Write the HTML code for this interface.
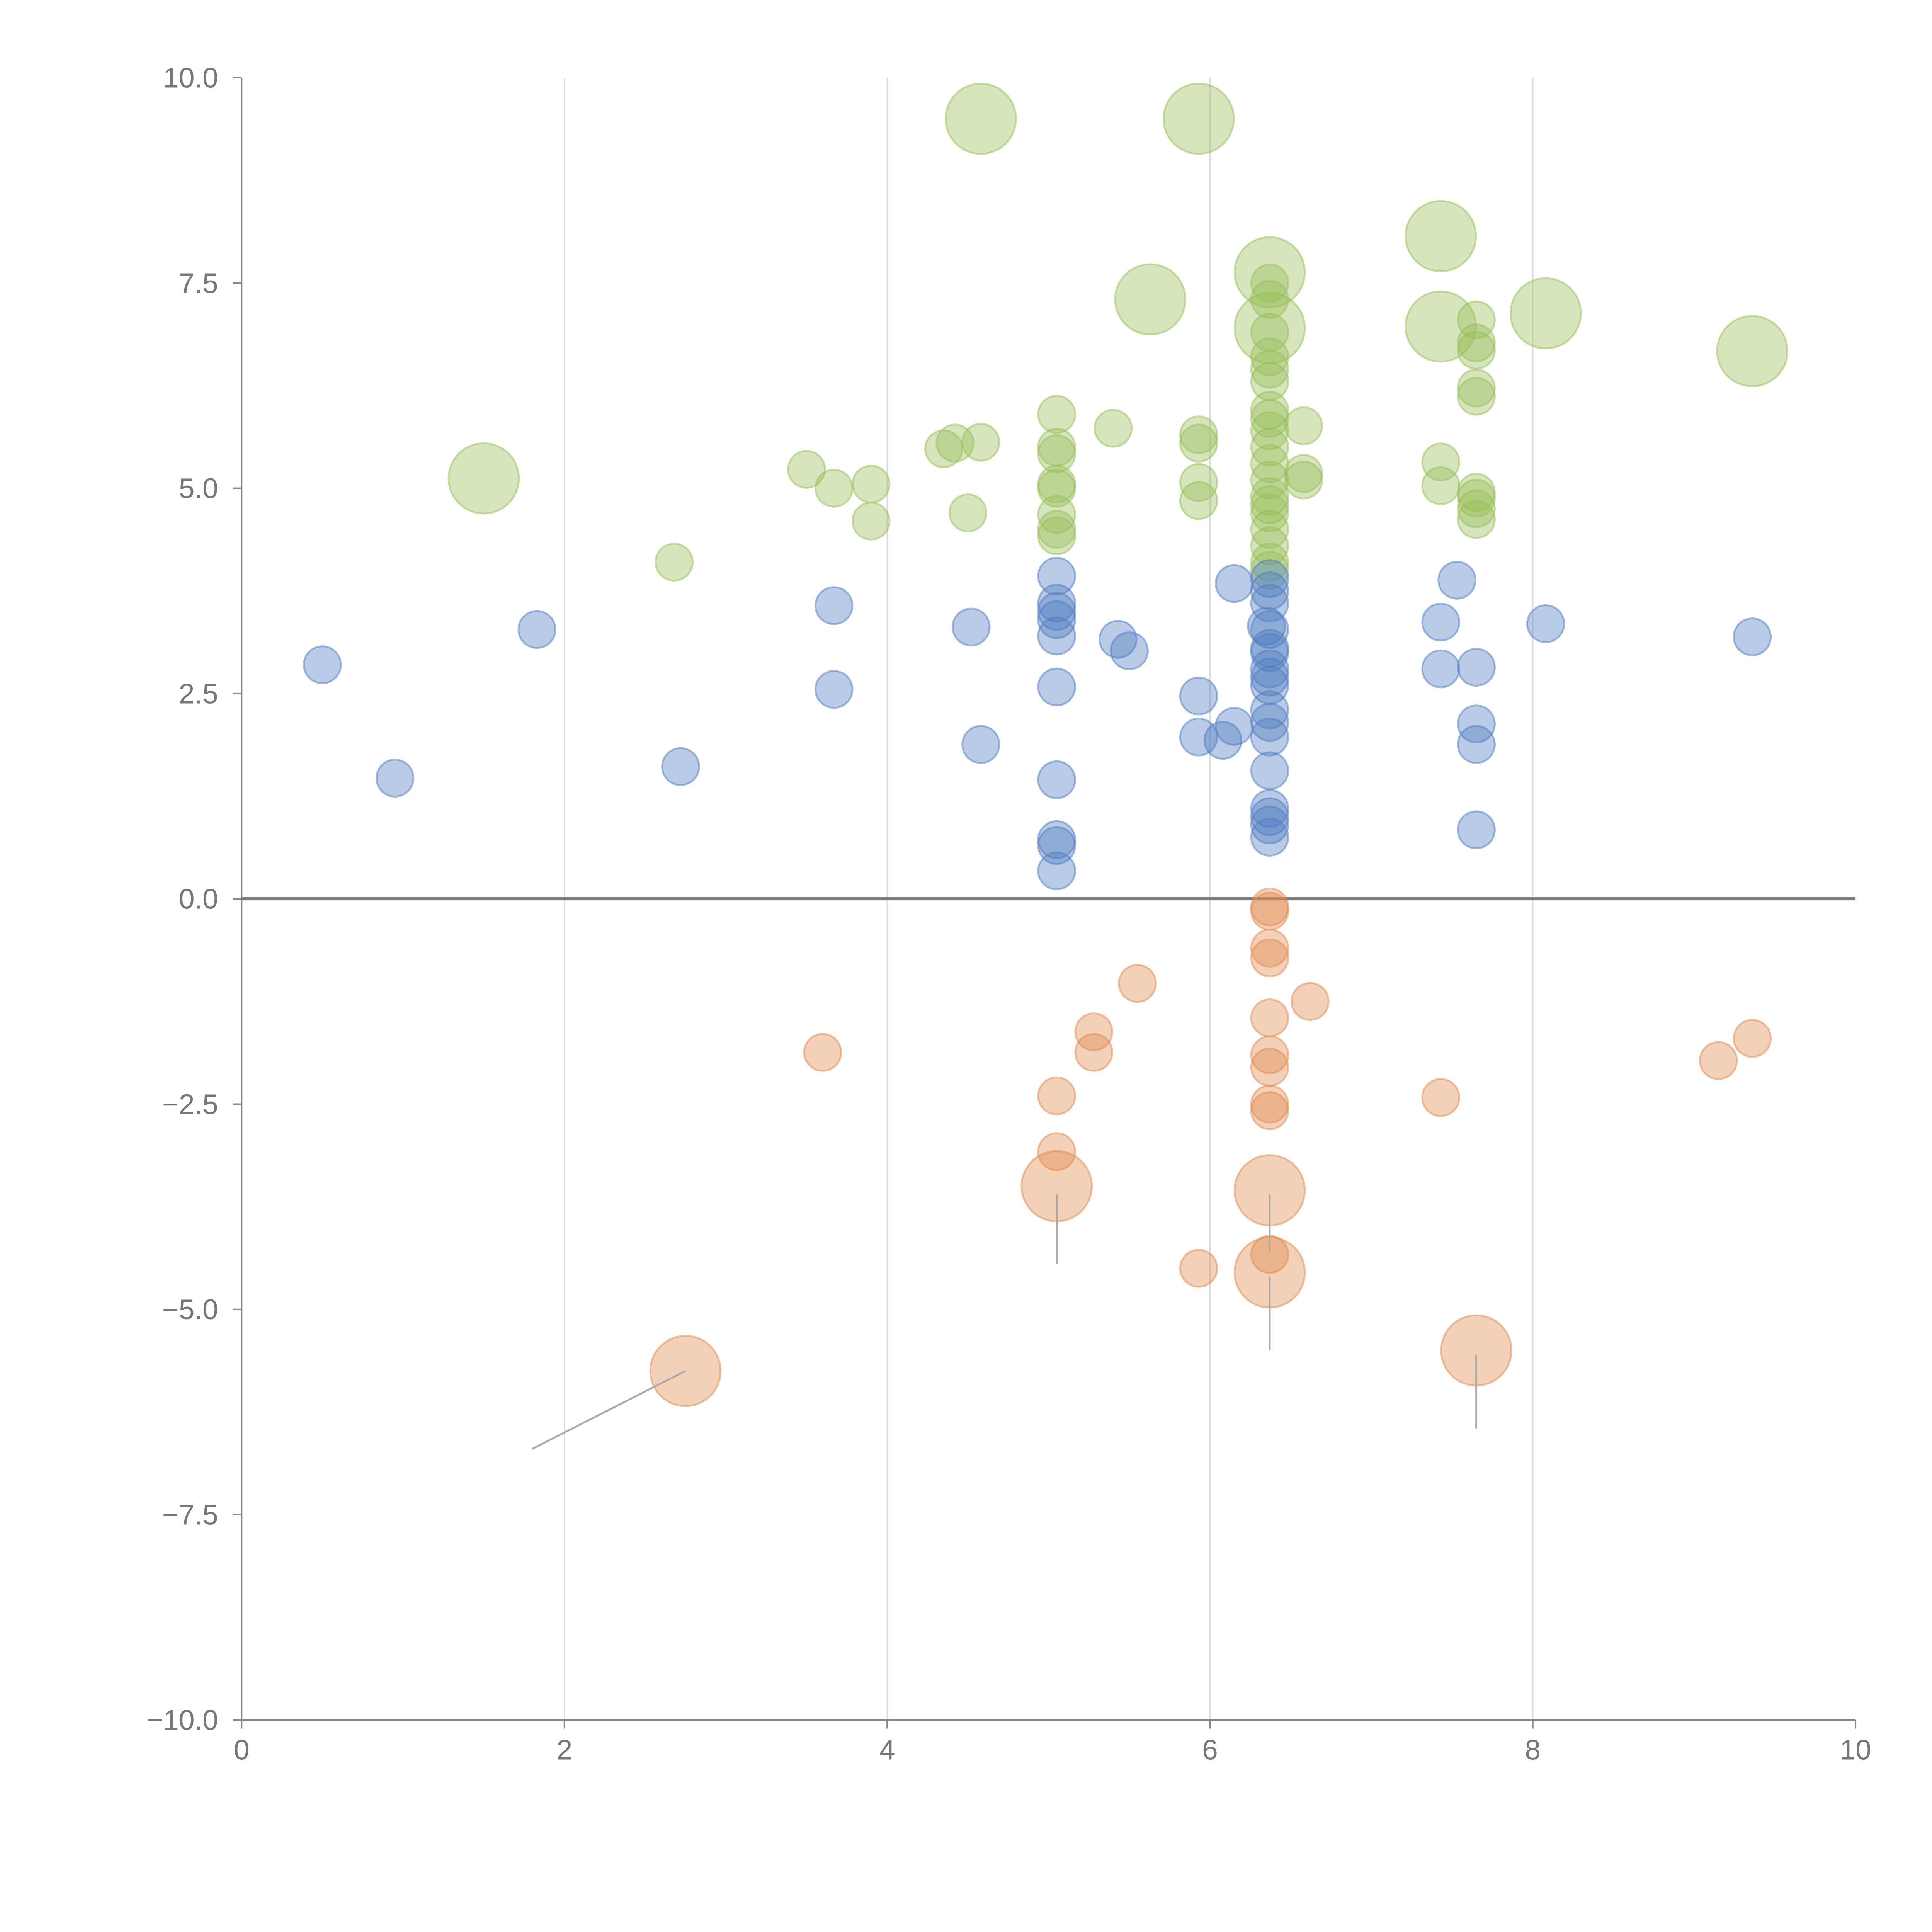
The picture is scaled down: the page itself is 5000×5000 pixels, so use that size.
<!DOCTYPE html>
<html><head><meta charset="utf-8"><style>html,body{margin:0;padding:0;background:#fff}svg{display:block}</style></head>
<body>
<svg id="chart" width="5000" height="5000" viewBox="0 0 1567 1567" xmlns="http://www.w3.org/2000/svg" font-family="Liberation Sans, sans-serif">
<g id="grid"></g>
<g id="axes"></g>
<g id="leaders"></g>
<g id="marks"></g>
</svg>
<script>
const xTicks=[0,2,4,6,8,10];
const yTicks=[-10,-7.5,-5,-2.5,0,2.5,5,7.5,10];
const blueX=[0.5,0.95,1.83,2.72,3.67,3.67,4.52,4.58,5.05,5.05,5.05,5.05,5.05,5.05,5.05,5.05,5.05,5.05,5.43,5.5,5.93,5.93,6.08,6.15,6.15,6.35,6.37,6.37,6.37,6.37,6.37,6.37,6.37,6.37,6.37,6.37,6.37,6.37,6.37,6.37,6.37,6.37,6.37,7.43,7.43,7.53,7.65,7.65,7.65,7.65,8.08,9.36];
const blueY=[2.85,1.47,3.28,1.61,3.57,2.55,3.31,1.88,3.93,3.6,3.5,3.4,3.2,2.58,1.45,0.72,0.65,0.34,3.16,3.02,2.47,1.97,1.93,2.1,3.84,3.32,3.9,3.75,3.6,3.28,3.05,3.0,2.8,2.7,2.6,2.3,2.15,1.97,1.56,1.1,1.0,0.9,0.75,3.37,2.8,3.88,2.82,2.13,1.88,0.84,3.35,3.19];
const orangeX=[3.6,5.05,5.05,5.28,5.28,5.55,5.93,6.37,6.37,6.37,6.37,6.37,6.37,6.37,6.37,6.37,6.37,6.62,7.43,9.15,9.36,2.75,5.05,6.37,6.37,7.65];
const orangeY=[-1.87,-2.4,-3.08,-1.62,-1.87,-1.03,-4.5,-0.1,-0.15,-0.6,-0.72,-1.45,-1.9,-2.05,-2.5,-2.58,-4.33,-1.25,-2.42,-1.97,-1.7,-5.75,-3.5,-3.55,-4.55,-5.5];
const orangeBig=[0,0,0,0,0,0,0,0,0,0,0,0,0,0,0,0,0,0,0,0,0,1,1,1,1,1];
const greenX=[2.68,3.5,3.67,3.9,3.9,4.35,4.42,4.5,4.58,5.05,5.05,5.05,5.05,5.05,5.05,5.05,5.05,5.4,5.93,5.93,5.93,5.93,6.37,6.37,6.37,6.37,6.37,6.37,6.37,6.37,6.37,6.37,6.37,6.37,6.37,6.37,6.37,6.37,6.37,6.37,6.37,6.58,6.58,6.58,7.43,7.43,7.65,7.65,7.65,7.65,7.65,7.65,7.65,7.65,7.65,1.5,4.58,5.93,5.63,6.37,6.37,7.43,7.43,8.08,9.36];
const greenY=[4.1,5.23,5.0,5.05,4.6,5.48,5.55,4.7,5.56,5.9,5.5,5.42,5.05,5.0,4.68,4.5,4.42,5.73,5.65,5.55,5.07,4.85,7.5,7.3,6.9,6.6,6.45,6.3,5.95,5.85,5.7,5.5,5.3,5.1,4.9,4.8,4.7,4.5,4.3,4.1,4.0,5.76,5.18,5.1,5.32,5.03,7.05,6.77,6.68,6.22,6.12,4.95,4.88,4.75,4.62,5.12,9.5,9.5,7.3,7.63,6.95,8.07,6.97,7.13,6.67];
const greenBig=greenX.map((d,i)=>i>=55?1:0);
const leaderFromX=[2.75,5.05,6.37,6.37,7.65];
const leaderFromY=[-5.75,-3.6,-3.6,-4.6,-5.55];
const leaderToX=[1.8,5.05,6.37,6.37,7.65];
const leaderToY=[-6.7,-4.45,-4.3,-5.5,-6.45];

const NS='http://www.w3.org/2000/svg';
const X0=196,X1=1505,Y0=1395,Y1=63;
const sx=v=>X0+(v-0)/(10-0)*(X1-X0);
const sy=v=>Y0-(v+10)/20*(Y0-Y1);
function mk(tag,attrs,parent){const e=document.createElementNS(NS,tag);for(const k in attrs)e.setAttribute(k,attrs[k]);parent.appendChild(e);return e;}
const grid=document.getElementById('grid'),axes=document.getElementById('axes'),marks=document.getElementById('marks'),leaders=document.getElementById('leaders');
xTicks.forEach(t=>{
  if(t>0&&t<10){const g=mk('line',{x1:sx(t),x2:sx(t),y1:Y1,y2:Y0,stroke:'#dcdcdc','stroke-width':1},grid);
  
  }
  const tk=mk('line',{x1:sx(t),x2:sx(t),y1:Y0,y2:Y0+7,stroke:'#888','stroke-width':1.2},axes);
  
  
  const tx=mk('text',{x:sx(t),y:Y0+32,'text-anchor':'middle','font-size':23,fill:'#777'},axes);
  tx.textContent=t;
  
  
});
yTicks.forEach(t=>{
  const tk=mk('line',{x1:X0-7,x2:X0,y1:sy(t),y2:sy(t),stroke:'#888','stroke-width':1.2},axes);
  
  
  const tx=mk('text',{x:X0-19,y:sy(t)+8,'text-anchor':'end','font-size':23,fill:'#777'},axes);
  tx.textContent=(t<0?'\u2212':'')+Math.abs(t).toFixed(1);
  
  
});
const ya=mk('line',{x1:X0,x2:X0,y1:Y1,y2:Y0,stroke:'#888','stroke-width':1.2},axes);


const xa=mk('line',{x1:X0,x2:X1,y1:Y0,y2:Y0,stroke:'#888','stroke-width':1.2},axes);


const zl=mk('line',{x1:X0,x2:X1,y1:sy(0),y2:sy(0),stroke:'#777','stroke-width':2.5},axes);


leaderFromX.forEach((d,i)=>{
  const l=mk('line',{x1:sx(d),y1:sy(leaderFromY[i]),x2:sx(leaderToX[i]),y2:sy(leaderToY[i]),stroke:'#aaa','stroke-width':1.5},leaders);
  
  
});
function series(xs,ys,big,col,name){
  xs.forEach((d,i)=>{
    const r=big&&big[i]?28.5:15;
    const c=mk('circle',{cx:sx(d),cy:sy(ys[i]),r:r,fill:col,'fill-opacity':0.4,stroke:col,'stroke-opacity':0.5,'stroke-width':1.5},marks);
    
    
  });
}
series(greenX,greenY,greenBig,'#98bd58','bubble-green');
series(blueX,blueY,null,'#4f7cc0','bubble-blue');
series(orangeX,orangeY,orangeBig,'#e08a4e','bubble-orange');
marks.parentNode.insertBefore(leaders,null);
</script>
</body></html>
